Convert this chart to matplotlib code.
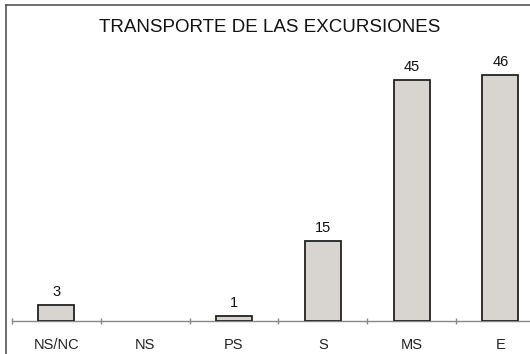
import matplotlib
matplotlib.use("Agg")
import matplotlib.pyplot as plt
from matplotlib.lines import Line2D

categories = ["NS/NC", "NS", "PS", "S", "MS", "E"]
values = [3, 0, 1, 15, 45, 46]
title = "TRANSPORTE DE LAS EXCURSIONES"

plt.rcParams['font.family'] = ['Liberation Sans', 'DejaVu Sans']

W, H = 530, 354
fig = plt.figure(figsize=(W / 100, H / 100), dpi=100)
fig.patch.set_facecolor('white')

step = 88.8
left_px = 12
base_px = 321
scale = 5.35
ymax = 50
ax = fig.add_axes([left_px / W, (H - base_px) / H, (W - left_px) / W, ymax * scale / H])

x = list(range(len(categories)))
for xi, v in zip(x, values):
    if v > 0:
        ax.bar(xi, v, width=36 / step, color='#d8d4cf', edgecolor='#222222', linewidth=1.3, zorder=3)
        ax.text(xi, v + 1.1, str(v), ha='center', va='bottom', fontsize=10.5, color='#111111')

ax.set_xlim(-0.5, -0.5 + (W - left_px) / step)
ax.set_ylim(0, ymax)
for s in ['top', 'right', 'left']:
    ax.spines[s].set_visible(False)
ax.spines['bottom'].set_color('#888888')
ax.spines['bottom'].set_linewidth(1.0)
ax.set_yticks([])
ax.set_xticks([i - 0.5 for i in range(len(categories))])
ax.set_xticklabels([])
ax.set_xticks(x, minor=True)
ax.set_xticklabels(categories, minor=True, fontsize=10.5, color='#222222')
ax.tick_params(axis='x', which='major', length=4, direction='inout', color='#888888', width=1)
ax.tick_params(axis='x', which='minor', length=0, pad=12)

fig.text(270 / W, 1 - 28 / H, title, ha='center', va='center', fontsize=13.5, color='#111111')

fig.add_artist(Line2D([6 / W, 6 / W], [0, 1 - 5 / H], color='#555555', linewidth=1.2, transform=fig.transFigure))
fig.add_artist(Line2D([6 / W, 1], [1 - 5 / H, 1 - 5 / H], color='#555555', linewidth=1.2, transform=fig.transFigure))

fig.savefig("out.png", dpi=100)
